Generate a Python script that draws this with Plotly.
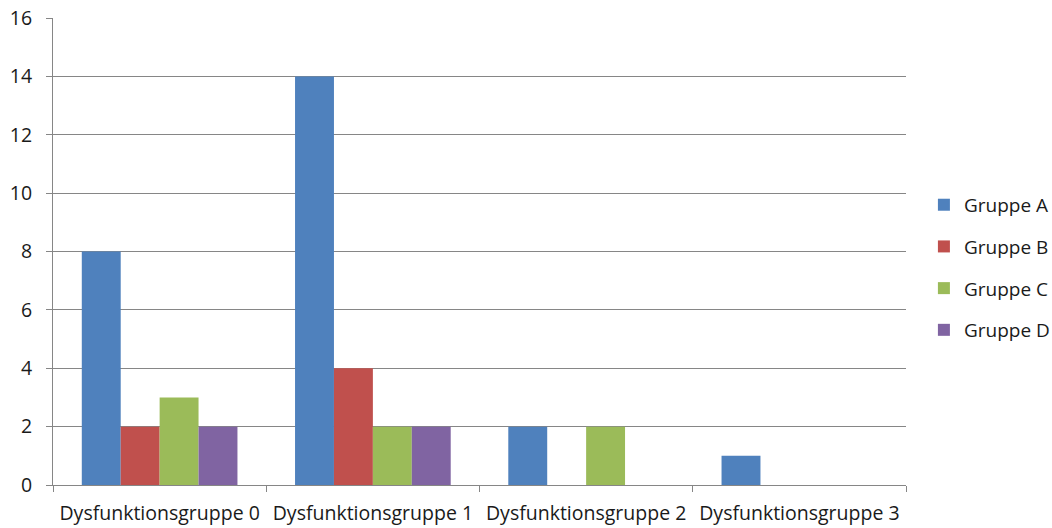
import plotly.graph_objects as go

categories = ["Dysfunktionsgruppe 0", "Dysfunktionsgruppe 1",
              "Dysfunktionsgruppe 2", "Dysfunktionsgruppe 3"]
gruppe_a = [8, 14, 2, 1]
gruppe_b = [2, 4, 0, 0]
gruppe_c = [3, 2, 2, 0]
gruppe_d = [2, 2, 0, 0]
y_ticks = [0, 2, 4, 6, 8, 10, 12, 14, 16]

series = [
    ("Gruppe A", gruppe_a, "#4F81BD"),
    ("Gruppe B", gruppe_b, "#C0504D"),
    ("Gruppe C", gruppe_c, "#9BBB59"),
    ("Gruppe D", gruppe_d, "#8064A2"),
]

fig = go.Figure()
for name, vals, color in series:
    fig.add_trace(go.Bar(x=categories, y=vals, name=name, legendgroup=name,
                         marker=dict(color=color, line=dict(width=0))))

font = "'Open Sans', sans-serif"
fig.update_layout(
    width=1052, height=528,
    margin=dict(l=53, r=146, t=18, b=43, autoexpand=False),
    paper_bgcolor="white", plot_bgcolor="white",
    barmode="group", bargap=0.27, bargroupgap=0,
    font=dict(family=font, size=19.5, color="#1a1a1a"),
    legend=dict(x=1.021, y=0.466, xanchor="left", yanchor="middle",
                font=dict(size=19), itemwidth=30, tracegroupgap=14,
                traceorder="grouped"),
    xaxis=dict(showline=True, linecolor="#868686", linewidth=1,
               ticks="outside", tickson="boundaries", ticklen=6,
               tickcolor="#868686", showgrid=False, ticklabelstandoff=11),
    yaxis=dict(range=[0, 16], tickvals=y_ticks, showgrid=True,
               gridcolor="#868686", gridwidth=1, showline=True,
               linecolor="#868686", ticks="outside", ticklen=6,
               tickcolor="#868686", zeroline=False, ticklabelstandoff=10),
)

fig.write_html("out.html")
